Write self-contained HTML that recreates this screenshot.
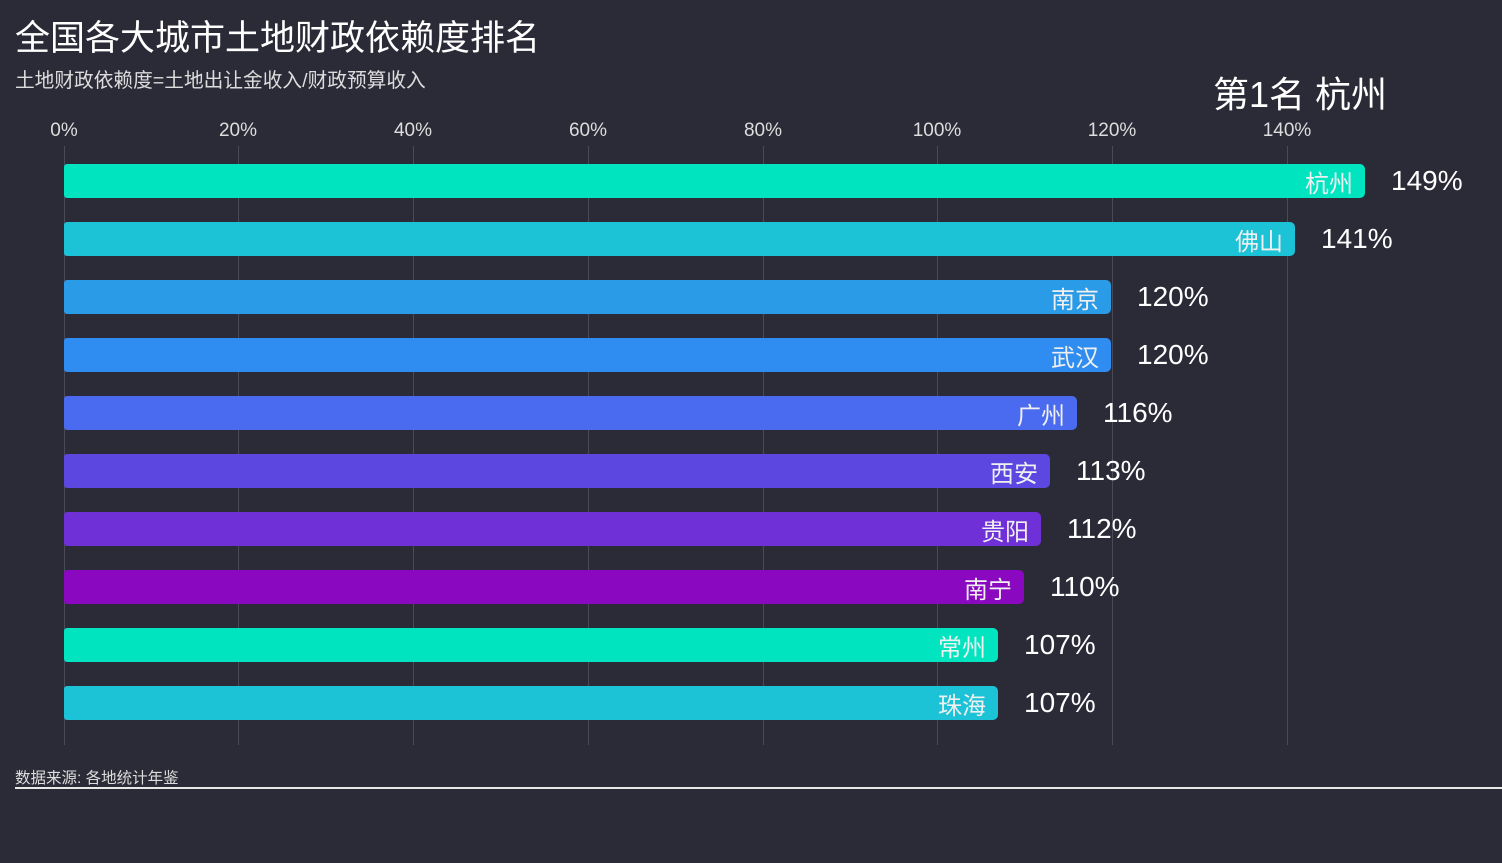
<!DOCTYPE html>
<html><head><meta charset="utf-8"><style>
body{margin:0;width:1502px;height:863px;background:#2b2a37;position:relative;overflow:hidden;font-family:"Liberation Sans","Noto Sans CJK SC",sans-serif;color:#fff}
.a{position:absolute;white-space:nowrap}
.g{position:absolute;top:146px;height:599px;width:1px;background:#4a4a58}
.t{position:absolute;top:120px;font-size:19px;color:#ddd;transform:translateX(-50%)}
.b{position:absolute;left:64px;height:34px;border-radius:3px 5px 5px 3px}
.b span{position:absolute;right:12px;top:4px;line-height:34px;font-size:24px;color:#f0f0f0}
.v{position:absolute;font-size:28px}
</style></head><body>
<div class="a" style="left:15px;top:10px;font-size:35px">全国各大城市土地财政依赖度排名</div>
<div class="a" style="left:15px;top:64px;font-size:19.7px;color:#ddd">土地财政依赖度=土地出让金收入/财政预算收入</div>
<div class="a" style="left:1213px;top:66px;font-size:36px">第1名 杭州</div>
<div class="g" style="left:64px"></div><div class="g" style="left:238px"></div><div class="g" style="left:413px"></div><div class="g" style="left:588px"></div><div class="g" style="left:763px"></div><div class="g" style="left:937px"></div><div class="g" style="left:1112px"></div><div class="g" style="left:1287px"></div>
<div class="t" style="left:64px">0%</div><div class="t" style="left:238px">20%</div><div class="t" style="left:413px">40%</div><div class="t" style="left:588px">60%</div><div class="t" style="left:763px">80%</div><div class="t" style="left:937px">100%</div><div class="t" style="left:1112px">120%</div><div class="t" style="left:1287px">140%</div>
<div class="b" style="top:164px;width:1301px;background:#00e5c0"><span>杭州</span></div><div class="v" style="left:1391px;top:165px">149%</div>
<div class="b" style="top:222px;width:1231px;background:#1cc3d6"><span>佛山</span></div><div class="v" style="left:1321px;top:223px">141%</div>
<div class="b" style="top:280px;width:1047px;background:#2a9be6"><span>南京</span></div><div class="v" style="left:1137px;top:281px">120%</div>
<div class="b" style="top:338px;width:1047px;background:#2f8cf0"><span>武汉</span></div><div class="v" style="left:1137px;top:339px">120%</div>
<div class="b" style="top:396px;width:1013px;background:#4a6af0"><span>广州</span></div><div class="v" style="left:1103px;top:397px">116%</div>
<div class="b" style="top:454px;width:986px;background:#5c48e0"><span>西安</span></div><div class="v" style="left:1076px;top:455px">113%</div>
<div class="b" style="top:512px;width:977px;background:#6f30d8"><span>贵阳</span></div><div class="v" style="left:1067px;top:513px">112%</div>
<div class="b" style="top:570px;width:960px;background:#8a08c0"><span>南宁</span></div><div class="v" style="left:1050px;top:571px">110%</div>
<div class="b" style="top:628px;width:934px;background:#00e5c0"><span>常州</span></div><div class="v" style="left:1024px;top:629px">107%</div>
<div class="b" style="top:686px;width:934px;background:#1cc3d6"><span>珠海</span></div><div class="v" style="left:1024px;top:687px">107%</div>
<div class="a" style="left:15px;top:766px;font-size:15.5px;color:#ddd">数据来源: 各地统计年鉴</div>
<div class="a" style="left:15px;top:787px;width:1487px;height:2px;background:#e8e8e8"></div>
</body></html>
